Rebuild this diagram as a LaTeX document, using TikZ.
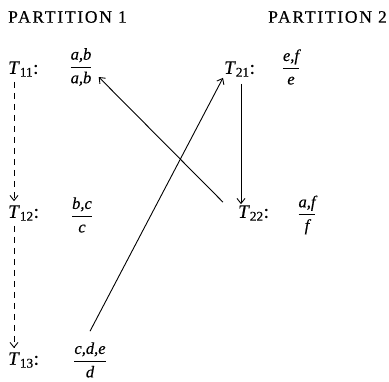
\documentclass[tikz,border=0pt]{standalone}
\usepackage{fontspec}
\setmainfont{Liberation Serif}
\usetikzlibrary{arrows.meta,positioning}
\newcommand{\fr}[2]{$\displaystyle\frac{\mbox{\itshape #1}}{\mbox{\itshape #2}}$}
\newcommand{\tn}[1]{\textit{T}\textsubscript{#1}:}

\begin{document}
\begin{tikzpicture}[x=1pt,y=-1pt,
  lbl/.style={font=\fontsize{19}{22}\selectfont\addfontfeature{FakeBold=0.4},inner sep=1pt},
  head/.style={font=\fontsize{17.5}{20}\selectfont\addfontfeature{LetterSpace=10,FakeBold=0.4},inner sep=1pt},
  frac/.style={font=\fontsize{16.5}{18}\selectfont\addfontfeature{FakeBold=0.4},inner sep=1pt},
  link/.style={line width=0.9pt,-{Straight Barb[length=5pt,width=8pt]}},
  order/.style={link,dash pattern=on 6pt off 5pt}]
  \useasboundingbox (0,0) rectangle (389,381);
  % headings
  \node[head,anchor=west] (head1) at (7,17) {PARTITION 1};
  \node[head,anchor=east] (head2) at (388,17) {PARTITION 2};
  % partition 1
  \node[lbl,anchor=west] (t11) at (7,69) {\tn{11}};
  \node[frac] (f11) at (81,67) {\fr{a,b}{a,b}};
  \node[lbl,anchor=west] (t12) at (7,213) {\tn{12}};
  \node[frac] (f12) at (82,215) {\fr{b,c}{c}};
  \node[lbl,anchor=west] (t13) at (7,360) {\tn{13}};
  \node[frac] (f13) at (90,360) {\fr{c,d,e}{d}};
  % partition 2
  \node[lbl,anchor=west] (t21) at (223,69) {\tn{21}};
  \node[frac] (f21) at (291,67) {\fr{e,f}{e}};
  \node[lbl,anchor=west] (t22) at (237,213) {\tn{22}};
  \node[frac] (f22) at (307,215) {\fr{a,f}{f}};
  % order within partition 1
  \draw[order,shorten <=4pt,shorten >=3pt] ([xshift=7pt]t11.south west) -- ([xshift=7pt]t12.north west);
  \draw[order,shorten <=4pt,shorten >=3pt] ([xshift=7pt]t12.south west) -- ([xshift=7pt]t13.north west);
  % links
  \draw[link,shorten <=6pt] ([xshift=18pt]t21.south west) -- ([xshift=18pt]t21.south west |- t22.north);
  \draw[link] ([xshift=-14pt,yshift=2pt]t22.north west) -- ([xshift=5pt,yshift=-10pt]f11.east);
  \draw[link] ([yshift=10pt]f13.north) -- (t21.south west);
\end{tikzpicture}
\end{document}
